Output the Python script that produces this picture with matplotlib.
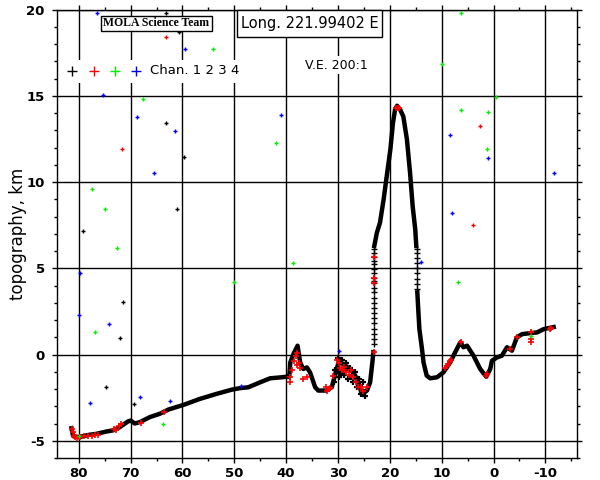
import numpy as np
import matplotlib
matplotlib.use("Agg")
import matplotlib.pyplot as plt
from matplotlib.patches import Rectangle
from matplotlib.ticker import MultipleLocator

plt.rcParams['axes.unicode_minus'] = False
plt.rcParams['font.family'] = ['DejaVu Sans']

nan = np.nan
# Main MOLA profile (channel 1, dense)
prof_lat = [81.4, 81.1, 80.0, 77.9, 76.6, 74.6, 73.4, 72.1, 70.5, 70.0, 69.2, 68.2, 66.3, 64.4,
            63.7, 62.7, 59.8, 56.6, 53.4, 50.5, 48.9, 47.3, 45.0, 43.1, 41.2, 39.9, 39.4, 39.2,
            38.6, 37.8, 37.3, 36.7, 36.0, 35.4, 34.4, 33.8, 32.2, 31.2, 30.6, 29.9, 29.0, 27.7,
            26.7, 25.7, 25.4, 24.4, 23.8, 23.3, 23.2, nan,
            23.0, 22.5, 21.9, 21.2, 20.6, 19.9, 19.4, 19.0, 18.6, 18.0, 17.4, 16.7, 16.1, 15.6,
            15.1, 14.9, nan,
            14.7, 14.5, 14.3, 13.8, 13.5, 12.9, 12.2, 10.9, 9.65, 8.36, 7.4, 6.4, 5.8, 5.1, 3.86,
            2.57, 1.4, 0.64, 0.3, -0.66, -1.6, -2.6, -3.55, -4.5, -5.5, -7.1, -8.4, -9.65, -11.6]
prof_topo = [-4.27, -4.73, -4.79, -4.65, -4.6, -4.46, -4.4, -4.21, -3.88, -3.83, -4.0, -3.92, -3.63, -3.44,
             -3.34, -3.19, -2.92, -2.57, -2.28, -2.04, -1.95, -1.9, -1.61, -1.38, -1.33, -1.29, -1.3, -0.46,
             0.02, 0.51, -0.46, -0.84, -0.75, -1.03, -1.9, -2.09, -2.09, -1.9, -1.22, -0.46, -0.55, -0.84,
             -1.22, -2.0, -2.28, -2.09, -1.61, -0.26, 0.13, nan,
             6.29, 7.06, 7.64, 8.99, 10.34, 11.88, 13.42, 14.19, 14.42, 14.19, 13.8, 12.46, 10.53, 8.6,
             7.25, 6.29, nan,
             3.6, 2.5, 1.47, 0.32, -0.46, -1.22, -1.38, -1.32, -1.03, -0.46, 0.13, 0.71, 0.42, 0.51, -0.07,
             -0.84, -1.29, -0.84, -0.36, -0.17, -0.07, 0.42, 0.22, 0.99, 1.18, 1.24, 1.28, 1.47, 1.59]

# Sparse samples on steep flanks
flank_l_lat = [23.1] * 22
flank_l_topo = [0.6, 0.9, 1.2, 1.5, 1.8, 2.1, 2.4, 2.7, 3.0, 3.3, 3.6, 3.88, 4.12, 4.27, 4.46,
                4.75, 4.94, 5.23, 5.42, 5.65, 5.91, 6.10]
flank_r_lat = [14.85] * 9
flank_r_topo = [3.8, 4.1, 4.4, 4.7, 5.0, 5.3, 5.6, 5.9, 6.1]

# Noisy cluster near 30-25 N
blob_lat = [30.8, 30.4, 30.0, 29.6, 29.2, 28.8, 28.4, 28.0, 27.6, 27.2, 26.8, 26.4, 26.0, 25.6,
            25.2, 24.8, 30.6, 29.8, 29.0, 28.2, 27.4, 26.6, 25.8, 25.0]
blob_topo = [-1.6, -0.9, -0.2, -1.1, -0.3, -1.2, -0.5, -1.4, -0.8, -1.6, -1.0, -1.9, -1.4, -2.3,
             -1.6, -2.4, -0.9, -1.3, -0.9, -0.8, -1.3, -1.3, -1.8, -2.2]

# Channel 2 (red) samples along the profile
red_lat = [81.4, 81.2, 81.0, 80.7, 80.3, 79.8, 79.0, 78.3, 77.5, 76.8, 76.2, 73.3, 72.8, 72.2, 71.9,
           68.0, 63.6, 39.3, 39.2, 38.8, 38.4, 38.1, 37.9, 38.0, 37.6, 37.3, 36.7, 36.0, 32.3, 32.1,
           31.8, 31.5, 30.9, 30.2, 29.9, 29.6, 29.2, 28.8, 28.4, 27.9, 27.4, 27.2, 26.6, 26.2, 25.6,
           25.2, 24.4, 23.1, 23.1, 23.1, 23.1, 18.8, 18.5, 18.2, 9.3, 9.0, 8.7, 8.4, 8.2, 6.3, 1.5,
           1.2, -3.1, -4.6, -7.2, -7.2, -7.2, -10.9, -11.1]
red_topo = [-4.3, -4.5, -4.7, -4.8, -4.85, -4.8, -4.75, -4.7, -4.7, -4.65, -4.65, -4.3, -4.35, -4.15,
            -4.05, -3.95, -3.35, -1.3, -1.6, -0.9, -0.4, -0.1, 0.1, -0.6, -0.5, -0.8, -1.4, -1.3, -1.9,
            -2.1, -2.0, -1.95, -1.22, -0.3, -0.5, -0.8, -0.9, -0.7, -1.0, -1.2, -0.9, -1.3, -1.6, -1.9,
            -1.9, -2.1, -1.9, 0.17, 4.12, 4.46, 5.65, 14.3, 14.3, 14.3, -0.8, -0.65, -0.55, -0.4, -0.3,
            0.7, -1.25, -1.15, 0.3, 1.0, 1.28, 0.9, 0.74, 1.47, 1.51]

# Off-profile returns per channel
ch1_lat = [63.1, 60.7, 63.2, 59.8, 61.0, 79.2, 71.4, 72.1, 74.8, 69.3]
ch1_topo = [19.78, 18.68, 13.44, 11.46, 8.45, 7.18, 3.07, 0.94, -1.9, -2.88]
ch2_lat = [63.2, 71.7, 2.7, 4.05]
ch2_topo = [18.39, 11.92, 13.27, 7.53]
ch3_lat = [54.1, 80.9, 67.6, 77.4, 74.9, 72.6, 50.0, 76.95, 63.7, 41.95, 38.6, 6.2, 10.0, -0.4,
           6.2, 1.16, 1.27, 6.76, -7.15, 80.0]
ch3_topo = [17.7, 16.4, 14.81, 9.61, 8.45, 6.2, 4.23, 1.28, -4.03, 12.27, 5.33, 19.8, 16.83, 14.92,
            14.17, 14.06, 11.92, 4.19, 1.09, -4.75]
ch4_lat = [76.4, 59.5, 75.3, 68.7, 61.4, 65.4, 79.7, 79.9, 74.1, 77.9, 68.2, 62.5, 48.8, 29.9, 40.9,
           8.3, 1.02, -11.6, 8.1, 13.9]
ch4_topo = [19.8, 17.7, 15.04, 13.77, 12.98, 10.53, 4.73, 2.27, 1.75, -2.82, -2.47, -2.71, -1.84,
            0.22, 13.9, 12.73, 11.42, 10.53, 8.22, 5.36]

chan_colors = ['black', '#ff0000', '#00ee00', '#0000ff']
xticks = [80, 70, 60, 50, 40, 30, 20, 10, 0, -10]
yticks = [-5, 0, 5, 10, 15, 20]

fig = plt.figure(figsize=(6, 4.8), dpi=100)
ax = fig.add_axes([57/600, 1 - 458/480, 520/600, 448.5/480])
ax.set_xlim(84.2, -16.1)
ax.set_ylim(-6, 20)

ax.grid(True, which='major', color='black', lw=1.0, zorder=0)
ax.set_axisbelow(True)

ms = 3.2
ax.plot(prof_lat, prof_topo, color='black', lw=3.2, solid_joinstyle='round', zorder=3)
ax.plot(flank_l_lat, flank_l_topo, '+', color='black', ms=4, mew=1, zorder=3)
ax.plot(flank_r_lat, flank_r_topo, '+', color='black', ms=4, mew=1, zorder=3)
ax.plot(blob_lat, blob_topo, '+', color='black', ms=5, mew=1.6, zorder=3)
ax.plot(red_lat, red_topo, '+', color=chan_colors[1], ms=4, mew=1.2, zorder=4)
for lat, topo, c in [(ch1_lat, ch1_topo, chan_colors[0]), (ch2_lat, ch2_topo, chan_colors[1]),
                     (ch3_lat, ch3_topo, chan_colors[2]), (ch4_lat, ch4_topo, chan_colors[3])]:
    ax.plot(lat, topo, '+', color=c, ms=ms, mew=1.0, zorder=4, clip_on=False)

ax.set_xticks(xticks)
ax.set_yticks(yticks)
ax.xaxis.set_minor_locator(MultipleLocator(5))
ax.yaxis.set_minor_locator(MultipleLocator(1))
ax.tick_params(which='both', direction='out', top=True, right=True, width=1.0, color='black')
ax.tick_params(which='major', length=3.8)
ax.tick_params(which='minor', length=2.5)
for lab in ax.get_xticklabels() + ax.get_yticklabels():
    lab.set_fontsize(9.5)
    lab.set_fontweight('bold')
ax.tick_params(axis='x', pad=3)
ax.tick_params(axis='y', pad=5)
for s in ax.spines.values():
    s.set_linewidth(1.0)
ax.set_ylabel('topography, km', fontsize=12)
ax.yaxis.set_label_coords(-0.058, 0.5)

# Annotation boxes
ax.add_patch(Rectangle((0.346, 0.9387), 0.279, 0.0613, transform=ax.transAxes,
                       facecolor='white', edgecolor='black', lw=1.0, zorder=6, clip_on=False))
ax.text(0.4856, 0.969, 'Long. 221.99402 E', transform=ax.transAxes, ha='center', va='center',
        fontsize=10.5, zorder=7)
ax.add_patch(Rectangle((0.084, 0.9527), 0.214, 0.0328, transform=ax.transAxes,
                       facecolor='white', edgecolor='black', lw=1.0, zorder=6))
ax.text(0.191, 0.969, 'MOLA Science Team', transform=ax.transAxes, ha='center', va='center',
        fontsize=8.5, family='Liberation Serif', fontweight='bold', zorder=7)
ax.text(0.537, 0.876, 'V.E. 200:1', transform=ax.transAxes, ha='center', va='center',
        fontsize=9, zorder=7, bbox=dict(facecolor='white', edgecolor='none', pad=2))

# Channel legend
ax.add_patch(Rectangle((0.0115, 0.836), 0.34, 0.051, transform=ax.transAxes,
                       facecolor='white', edgecolor='none', zorder=5))
for xa, c in zip([0.0288, 0.0712, 0.1115, 0.152], chan_colors):
    ax.plot([xa], [0.863], '+', color=c, ms=6.5, mew=1.0, transform=ax.transAxes, zorder=7)
ax.text(0.179, 0.863, 'Chan. 1 2 3 4', transform=ax.transAxes, ha='left', va='center',
        fontsize=9.5, zorder=7)

fig.savefig('out.png', dpi=100)
